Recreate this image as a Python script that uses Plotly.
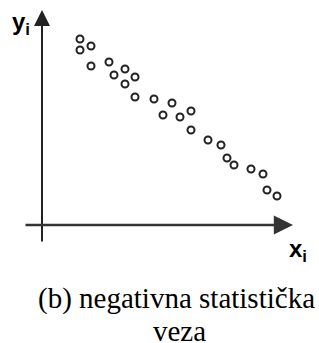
import plotly.graph_objects as go

# scatter values (arbitrary units, origin at axis crossing)
x_vals = [38, 38, 49, 49, 67, 72, 83, 83, 93, 93, 112, 130, 121, 138, 149, 149,
          166, 179, 185, 192, 209, 221, 225, 235]
y_vals = [186, 175, 179, 159, 163, 150, 156, 141, 148, 128, 126, 122, 110, 108,
          114, 95, 85, 80, 67, 60, 56, 51, 35, 29]

caption_line1 = "(b) negativna statistička"
caption_line2 = "veza"

fig = go.Figure()
fig.add_trace(go.Scatter(
    x=x_vals, y=y_vals, mode="markers",
    marker=dict(symbol="circle", size=7, color="white",
                line=dict(color="#222222", width=2)),
    hoverinfo="skip", showlegend=False,
))

arrow_color = "#222222"
# vertical axis arrow
fig.add_annotation(x=0, y=215, ax=0, ay=-18, xref="x", yref="y", axref="x", ayref="y",
                   showarrow=True, arrowhead=2, arrowsize=1.6, arrowwidth=2,
                   arrowcolor=arrow_color, text="")
# horizontal axis arrow
fig.add_annotation(x=251, y=0, ax=-18, ay=0, xref="x", yref="y", axref="x", ayref="y",
                   showarrow=True, arrowhead=2, arrowsize=1.6, arrowwidth=2.4,
                   arrowcolor="#333333", text="")

label_font = dict(family="Liberation Sans, Arial, sans-serif", size=24, color="black")
fig.add_annotation(x=-21, y=202, xref="x", yref="y", text="<b>y<sub>i</sub></b>",
                   showarrow=False, font=label_font)
fig.add_annotation(x=256, y=-25, xref="x", yref="y", text="<b>x<sub>i</sub></b>",
                   showarrow=False, font=label_font)

cap_font = dict(family="Liberation Serif, Times New Roman, serif", size=29, color="black")
fig.add_annotation(x=0.552, y=-73.5, xref="paper", yref="y", text=caption_line1,
                   showarrow=False, font=cap_font)
fig.add_annotation(x=0.564, y=-106, xref="paper", yref="y", text=caption_line2,
                   showarrow=False, font=cap_font)

fig.update_layout(
    width=319, height=343, margin=dict(l=0, r=0, t=0, b=0),
    paper_bgcolor="white", plot_bgcolor="white",
    xaxis=dict(range=[-42, 277], visible=False, fixedrange=True),
    yaxis=dict(range=[-118, 225], visible=False, fixedrange=True),
)
fig.write_html("out.html", config={"displayModeBar": False},
               post_script="document.body.style.margin='0';document.body.style.overflow='hidden';")
